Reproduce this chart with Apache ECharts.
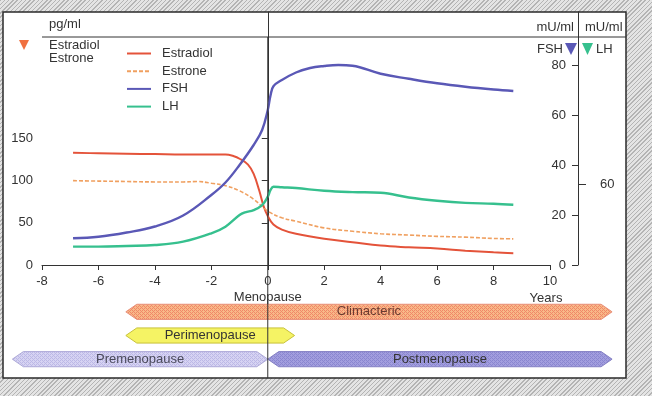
<!DOCTYPE html>
<html><head><meta charset="utf-8">
<script src="https://cdn.jsdelivr.net/npm/echarts@6/dist/echarts.min.js"></script>
<style>
html,body{margin:0;padding:0;}
body{width:652px;height:396px;background:repeating-linear-gradient(135deg,#b4b4b4 0px,#b4b4b4 1px,#e4e4e4 1px,#e4e4e4 3px);}
#chart{width:652px;height:396px;}
</style></head><body><div id="chart"></div>
<script>
// ---- data ----
const xTicks = [-8, -6, -4, -2, 0, 2, 4, 6, 8, 10];
const leftTicks = [0, 50, 100, 150];
const fshTicks = [0, 20, 40, 60, 80];
const lhTicks = [60];

const estradiol = [[-6.9,133],[-6,132.5],[-5,132],[-4,131.5],[-3,131],[-2,131],[-1.5,131],[-1.2,129],[-1,126],[-0.7,119],[-0.5,108],[-0.3,88],[-0.15,70],[0,58],[0.2,48],[0.5,42],[1,37],[2,31],[3,27],[4,23],[5,21],[6,19.5],[7,17],[8,15],[8.7,14]];
const estrone = [[-6.9,100],[-6,99.5],[-5,99],[-4,98.5],[-3,98.5],[-2.5,99],[-2,97],[-1.5,94],[-1,88],[-0.5,78],[0,64],[0.5,56],[1,52],[2,44],[3,40],[4,37],[5,35.5],[6,34],[7,33],[8,31.5],[8.7,31]];
const fsh = [[-6.9,10.7],[-6,11.3],[-5,13],[-4,15.4],[-3,19.8],[-2,28],[-1.5,33],[-1,40],[-0.5,48],[-0.2,54],[0,62],[0.1,68],[0.2,71.5],[0.5,74],[1,77],[1.5,78.8],[2,79.6],[2.5,80],[3,79.7],[4,76.5],[5,74.5],[6,72.7],[7,71.3],[8,70.2],[8.7,69.6]];
const lh = [[-6.9,13.6],[-6,13.6],[-5,14.1],[-4,14.8],[-3,17.3],[-2,23.5],[-1.5,28.4],[-1,37],[-0.8,39],[-0.5,40.7],[-0.2,44.4],[0,50.6],[0.1,55.6],[0.2,58],[0.5,57.6],[1,57],[2,55],[3,54],[4,53.5],[5,50],[6,47.6],[7,46],[8,45.4],[8.7,44.6]];

const phaseNames = ['Climacteric', 'Perimenopause', 'Premenopause', 'Postmenopause'];
const phaseStart = [-5.03, -5.03, -9.05, 0];
const phaseEnd = [12.2, 0.95, 0, 12.2];
const phaseRow = [0, 1, 2, 2];
const phaseRows = ['r0', 'r1', 'r2'];

// ---- styling helpers ----
const FONT = '"Liberation Sans", Arial, Helvetica, sans-serif';
function hatch(bg, fg) {
  const c = document.createElement('canvas');
  c.width = 4; c.height = 4;
  const g = c.getContext('2d');
  g.fillStyle = bg; g.fillRect(0, 0, 4, 4);
  g.fillStyle = fg;
  for (let x = 0; x < 4; x++) for (let y = 0; y < 4; y++) {
    if ((x + y) % 4 === 0 || ((x - y + 4) % 4 === 2)) g.fillRect(x, y, 1, 1);
  }
  return { image: c, repeat: 'repeat' };
}
const phaseFill = [hatch('#f8b888', '#f08868'), '#f5f364', hatch('#d6d3f2', '#bcb8e6'), hatch('#a29ede', '#8a86d0')];
const phaseStroke = ['#e8907a', '#c8c238', '#aeaad8', '#8480c4'];
const phaseText = ['#6a3a30', '#333', '#4a4a5a', '#333'];

const chart = echarts.init(document.getElementById('chart'), null, { renderer: 'canvas' });

const lineCommon = { smooth: 0.4, symbol: 'none', xAxisIndex: 0, z: 3 };
const option = {
  animation: false,
  textStyle: { fontFamily: FONT },
  grid: [
    { left: 42, right: 102, top: 12, bottom: 131 },
    { left: 42, right: 102, top: 300, bottom: 25 }
  ],
  legend: {
    orient: 'vertical', left: 121, top: 42, itemWidth: 24, itemHeight: 14, itemGap: 4.7,
    itemStyle: { opacity: 0 },
    textStyle: { fontSize: 13, color: '#333', fontFamily: FONT, padding: [0, 0, 0, 6] },
    data: ['Estradiol', 'Estrone', 'FSH', 'LH']
  },
  xAxis: [
    {
      gridIndex: 0, type: 'value', min: -8, max: 10, interval: 2,
      axisLine: { lineStyle: { color: '#333', width: 1 } },
      axisTick: { show: true, length: 5, lineStyle: { color: '#333' }, customValues: xTicks },
      axisLabel: { fontSize: 13, color: '#333', margin: 10, fontFamily: FONT, customValues: xTicks },
      splitLine: { show: false }
    },
    { gridIndex: 1, type: 'value', min: -8, max: 10, show: false }
  ],
  yAxis: [
    {
      gridIndex: 0, type: 'value', min: 0, max: 300, interval: 50, position: 'left',
      axisLine: { show: true, lineStyle: { color: '#333', width: 1 } },
      axisTick: { show: true, length: 6, lineStyle: { color: '#333' }, customValues: leftTicks },
      axisLabel: { fontSize: 13, color: '#333', margin: 9, fontFamily: FONT, customValues: leftTicks },
      splitLine: { show: false }
    },
    {
      gridIndex: 0, type: 'value', min: 0, max: 101.2, interval: 20, position: 'right', offset: 28,
      axisLine: { show: true, lineStyle: { color: '#333', width: 1 } },
      axisTick: { show: true, inside: true, length: 6, lineStyle: { color: '#333' }, customValues: fshTicks },
      axisLabel: { inside: true, fontSize: 13, color: '#333', margin: 12, fontFamily: FONT, customValues: fshTicks },
      splitLine: { show: false }
    },
    {
      gridIndex: 0, type: 'value', min: 0, max: 187.4, interval: 20, position: 'right', offset: 28,
      axisLine: { show: false },
      axisTick: { show: true, length: 8, lineStyle: { color: '#333' }, customValues: lhTicks },
      axisLabel: { fontSize: 13, color: '#333', margin: 22, fontFamily: FONT, customValues: lhTicks },
      splitLine: { show: false }
    },
    { gridIndex: 1, type: 'category', data: phaseRows, inverse: true, show: false }
  ],
  series: [
    Object.assign({ name: 'Estradiol', type: 'line', yAxisIndex: 0, data: estradiol, lineStyle: { color: '#e4533a', width: 2 }, itemStyle: { color: '#e4533a' } }, lineCommon),
    Object.assign({ name: 'Estrone', type: 'line', yAxisIndex: 0, data: estrone, lineStyle: { color: '#f0a060', width: 1.6, type: [4, 2] }, itemStyle: { color: '#f0a060' } }, lineCommon),
    Object.assign({ name: 'FSH', type: 'line', yAxisIndex: 1, data: fsh, lineStyle: { color: '#5a58b6', width: 2.4 }, itemStyle: { color: '#5a58b6' } }, lineCommon),
    Object.assign({ name: 'LH', type: 'line', yAxisIndex: 2, data: lh, lineStyle: { color: '#36c08e', width: 2.4 }, itemStyle: { color: '#36c08e' } }, lineCommon),
    {
      type: 'custom', xAxisIndex: 1, yAxisIndex: 3, clip: false, z: 1,
      data: phaseNames.map((n, i) => [phaseStart[i], phaseEnd[i], phaseRow[i], i]),
      renderItem: function (params, api) {
        const idx = api.value(3);
        const s = api.coord([api.value(0), api.value(2)]);
        const e = api.coord([api.value(1), api.value(2)]);
        const h = api.size([0, 1])[1] * 0.64;
        const d = 11;
        const yc = s[1];
        const pts = [[s[0], yc], [s[0] + d, yc - h / 2], [e[0] - d, yc - h / 2], [e[0], yc], [e[0] - d, yc + h / 2], [s[0] + d, yc + h / 2]];
        return {
          type: 'group',
          children: [
            { type: 'polygon', shape: { points: pts }, style: { fill: phaseFill[idx], stroke: phaseStroke[idx], lineWidth: 1 } },
            { type: 'text', style: { text: phaseNames[idx], x: (s[0] + e[0]) / 2, y: yc, align: 'center', verticalAlign: 'middle', font: '13px ' + FONT, fill: phaseText[idx] } }
          ]
        };
      }
    }
  ]
};
chart.setOption(option);

const x0 = chart.convertToPixel({ xAxisIndex: 0 }, 0);
const xEnd = chart.convertToPixel({ xAxisIndex: 0 }, 10);
const txt = (t, x, y, align, color) => ({ type: 'text', z: 10, style: { text: t, x: x, y: y, align: align || 'left', verticalAlign: 'middle', font: '13px ' + FONT, fill: color || '#333' } });
chart.setOption({
  graphic: [
    { type: 'rect', z: -100, shape: { x: 3, y: 12, width: 623, height: 366 }, style: { fill: '#ffffff', stroke: '#2a2a2a', lineWidth: 1.5 } },
    { type: 'line', z: 10, shape: { x1: 42, y1: 37, x2: 626, y2: 37 }, style: { stroke: '#333', lineWidth: 1 } },
    { type: 'line', z: 10, shape: { x1: x0, y1: 37, x2: x0, y2: 378 }, style: { stroke: '#333', lineWidth: 1 } },
    txt('pg/ml', 49, 24),
    txt('Estradiol', 49, 45),
    txt('Estrone', 49, 58),
    { type: 'polygon', z: 10, shape: { points: [[19, 40], [29, 40], [24, 50]] }, style: { fill: '#f07040' } },
    txt('mU/ml', 574, 27, 'right'),
    txt('mU/ml', 585, 27, 'left'),
    txt('FSH', 563, 49, 'right'),
    { type: 'polygon', z: 10, shape: { points: [[565, 43], [577, 43], [571, 55]] }, style: { fill: '#5a58b6' } },
    { type: 'polygon', z: 10, shape: { points: [[582, 43], [593, 43], [587.5, 55]] }, style: { fill: '#36c08e' } },
    txt('LH', 596, 49, 'left'),
    txt('Menopause', x0, 297, 'center'),
    txt('Years', xEnd - 4, 298, 'center')
  ]
});
</script></body></html>
